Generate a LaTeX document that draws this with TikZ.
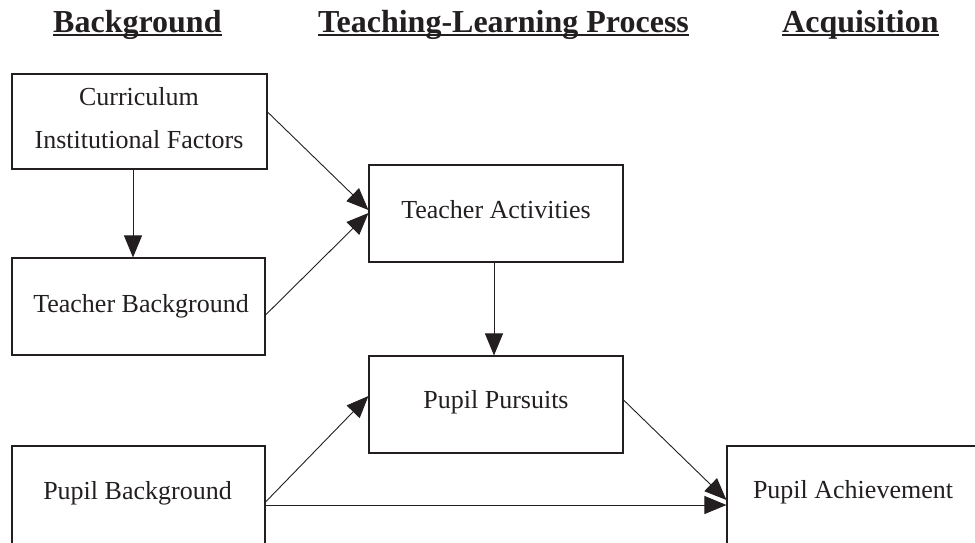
\documentclass[tikz,border=0pt]{standalone}
\usepackage{fontspec}
\setmainfont{Liberation Serif}
\usetikzlibrary{arrows.meta}
\definecolor{ink}{HTML}{231F20}
\begin{document}
\begin{tikzpicture}[x=1pt,y=-1pt,
  box/.style={draw=ink,line width=1.1pt,inner sep=0pt,minimum width=254pt,minimum height=97pt},
  txt/.style={font=\fontsize{26}{30}\selectfont,text=ink,inner sep=0pt,anchor=base},
  head/.style={font=\fontsize{32}{38}\selectfont\bfseries,text=ink,inner sep=0pt,anchor=base west},
  uline/.style={draw=ink,line width=2.2pt},
  conn/.style={draw=ink,line width=0.9pt,-{Triangle[length=22pt,width=18pt]}}]
\useasboundingbox (0,0) rectangle (975,542);
\clip (0,0) rectangle (975,542);

% headers
\node[head] (h1) at (53,32) {Background};
\node[head] (h2) at (318,32) {Teaching-Learning Process~};
\node[head] (h3) at (782,32) {Acquisition};
\foreach \h in {h1,h2,h3}
  \draw[uline] ([yshift=-2.8pt]\h.base west) -- ([yshift=-2.8pt]\h.base east);

% boxes
\node[box,minimum width=255pt,minimum height=95pt] (b1) at (139.5,121.5) {};
\node[box,minimum width=253pt] (b2) at (138.5,306.5) {};
\node[box,minimum width=253pt,minimum height=110pt] (b3) at (138.5,501) {};
\node[box] (b4) at (496,213.5) {};
\node[box] (b5) at (496,404.5) {};
\node[box,minimum width=280pt,minimum height=110pt] (b6) at (867,501) {};

% texts
\node[txt] (t1a) at (139,105) {Curriculum};
\node[txt] (t1b) at (139,148) {Institutional Factors};
\node[txt] (t2) at (141,312) {Teacher Background};
\node[txt] (t3) at (137.5,499) {Pupil Background};
\node[txt] (t4) at (496,218) {Teacher Activities};
\node[txt] (t5) at (496,408) {Pupil Pursuits};
\node[txt] (t6) at (853,498) {Pupil Achievement};

% connectors
\draw[conn] ([xshift=-6.5pt]b1.south) -- ([xshift=-6.5pt]b1.south |- b2.north);
\draw[conn] ([xshift=-2pt]b4.south) -- ([xshift=-2pt]b4.south |- b5.north);
\draw[conn] ([yshift=9.5pt]b1.east) -- ([yshift=3.5pt]b4.west);
\draw[conn] ([yshift=-8.5pt]b2.east) -- ([yshift=0.5pt]b4.west);
\draw[conn] ([yshift=-1pt]b3.east) -- ([yshift=8.5pt]b5.west);
\draw[conn] ([yshift=-4pt]b3.east) -- ([yshift=-4pt]b3.east -| b6.west);
\draw[conn] ([yshift=4.5pt]b5.east) -- ([yshift=1pt]b6.west);
\end{tikzpicture}
\end{document}
